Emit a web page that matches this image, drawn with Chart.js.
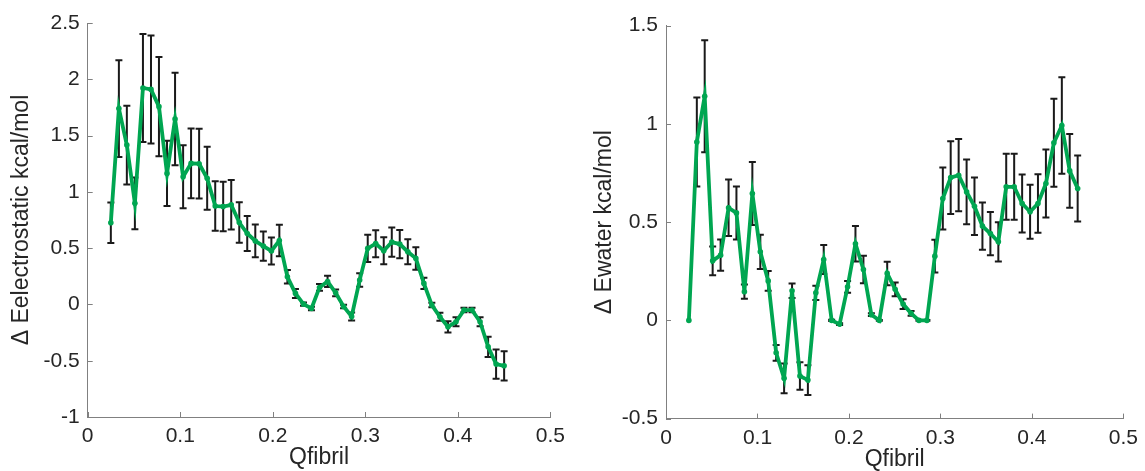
<!DOCTYPE html>
<html>
<head>
<meta charset="utf-8">
<script src="https://cdn.jsdelivr.net/npm/chart.js@4/dist/chart.umd.min.js"></script>
<style>
  html, body { margin: 0; padding: 0; background: #fff; }
  #wrap { position: relative; width: 1145px; height: 471px; }
  .panel { position: absolute; top: 0; }
</style>
</head>
<body>
<div id="wrap">
  <div class="panel" style="left:0px"><canvas id="elecChart" width="572" height="471"></canvas></div>
  <div class="panel" style="left:572px"><canvas id="waterChart" width="573" height="471"></canvas></div>
</div>
<script>
// Qfibril bins (same for both panels)
const qfibril = [
  0.0250, 0.0337, 0.0423, 0.0510, 0.0597, 0.0684, 0.0770, 0.0857, 0.0944, 0.1031,
  0.1117, 0.1204, 0.1291, 0.1378, 0.1464, 0.1551, 0.1638, 0.1724, 0.1811, 0.1898,
  0.1985, 0.2071, 0.2158, 0.2245, 0.2332, 0.2418, 0.2505, 0.2592, 0.2679, 0.2765,
  0.2852, 0.2939, 0.3026, 0.3112, 0.3199, 0.3286, 0.3372, 0.3459, 0.3546, 0.3633,
  0.3719, 0.3806, 0.3893, 0.3980, 0.4066, 0.4153, 0.4240, 0.4327, 0.4413, 0.4500
];

// left panel: electrostatic energy
const elecValues = [
  0.725, 1.74, 1.416, 0.898, 1.923, 1.91, 1.757, 1.164, 1.647, 1.134,
  1.253, 1.25, 1.12, 0.874, 0.87, 0.885, 0.727, 0.63, 0.564, 0.518,
  0.475, 0.567, 0.245, 0.098, 0.003, -0.036, 0.151, 0.204, 0.103, -0.018,
  -0.107, 0.216, 0.498, 0.54, 0.477, 0.554, 0.536, 0.468, 0.409, 0.187,
  -0.006, -0.11, -0.199, -0.154, -0.05, -0.05, -0.154, -0.377, -0.53, -0.545
];
const elecErrors = [
  0.18, 0.43, 0.35, 0.23, 0.48, 0.48, 0.44, 0.29, 0.41, 0.28,
  0.31, 0.31, 0.28, 0.22, 0.22, 0.22, 0.18, 0.155, 0.145, 0.13,
  0.12, 0.14, 0.06, 0.04, 0.015, 0.015, 0.03, 0.05, 0.03, 0.015,
  0.035, 0.06, 0.12, 0.12, 0.12, 0.13, 0.125, 0.11, 0.1, 0.05,
  0.02, 0.035, 0.05, 0.04, 0.02, 0.02, 0.04, 0.09, 0.13, 0.13
];

// right panel: water energy
const waterValues = [
  0.0, 0.908, 1.141, 0.303, 0.332, 0.573, 0.547, 0.146, 0.646, 0.349,
  0.201, -0.165, -0.295, 0.151, -0.283, -0.304, 0.14, 0.31, 0.0, -0.019,
  0.171, 0.39, 0.259, 0.029, 0.0, 0.239, 0.158, 0.083, 0.036, 0.0,
  0.0, 0.327, 0.62, 0.727, 0.739, 0.654, 0.581, 0.48, 0.442, 0.4,
  0.68, 0.68, 0.595, 0.553, 0.595, 0.697, 0.904, 0.992, 0.761, 0.671
];
const waterErrors = [
  0.0, 0.227, 0.285, 0.073, 0.08, 0.144, 0.135, 0.036, 0.16, 0.087,
  0.05, 0.04, 0.076, 0.037, 0.07, 0.076, 0.036, 0.074, 0.003, 0.005,
  0.03, 0.09, 0.07, 0.007, 0.002, 0.06, 0.035, 0.025, 0.012, 0.002,
  0.002, 0.083, 0.158, 0.185, 0.184, 0.165, 0.146, 0.12, 0.11, 0.1,
  0.168, 0.168, 0.148, 0.137, 0.149, 0.173, 0.224, 0.246, 0.188, 0.168
];

const xTicks = [0, 0.1, 0.2, 0.3, 0.4, 0.5];
const elecYTicks = [-1, -0.5, 0, 0.5, 1, 1.5, 2, 2.5];
const waterYTicks = [-0.5, 0, 0.5, 1, 1.5];

const GREEN = "#00a651";
const TEXT = "#262626";
const AXIS = "#808080";
const FONT = "'Liberation Sans', Arial, Helvetica, sans-serif";

const fmt = (v) => String(Math.round(v * 10) / 10);

// error bars under the line, inward ticks on the axes
const errorBarPlugin = {
  id: "errorBars",
  beforeDatasetsDraw(chart) {
    const { ctx, scales: { x, y } } = chart;
    ctx.save();
    ctx.strokeStyle = "#1a1a1a";
    ctx.lineWidth = 2;
    chart.data.datasets.forEach((ds) => {
      ds.data.forEach((p, i) => {
        const e = ds.errors[i];
        if (!e) return;
        const px = x.getPixelForValue(p.x);
        const top = y.getPixelForValue(p.y + e);
        const bot = y.getPixelForValue(p.y - e);
        ctx.beginPath();
        ctx.moveTo(px, top);
        ctx.lineTo(px, bot);
        ctx.moveTo(px - 3.5, top);
        ctx.lineTo(px + 3.5, top);
        ctx.moveTo(px - 3.5, bot);
        ctx.lineTo(px + 3.5, bot);
        ctx.stroke();
      });
    });
    ctx.restore();
  },
  afterDraw(chart) {
    const { ctx, chartArea: a, scales: { x, y } } = chart;
    ctx.save();
    ctx.strokeStyle = AXIS;
    ctx.lineWidth = 1;
    ctx.beginPath();
    x.ticks.forEach((t) => {
      const px = Math.round(x.getPixelForValue(t.value)) + 0.5;
      ctx.moveTo(px, a.bottom);
      ctx.lineTo(px, a.bottom - 5);
    });
    y.ticks.forEach((t) => {
      const py = Math.round(y.getPixelForValue(t.value)) + 0.5;
      ctx.moveTo(a.left, py);
      ctx.lineTo(a.left + 5, py);
    });
    ctx.stroke();
    ctx.restore();
  },
};

function makePanel(id, values, errors, yTicks, yTitle, box) {
  const ctx = document.getElementById(id).getContext("2d");
  return new Chart(ctx, {
    type: "line",
    data: {
      datasets: [
        {
          data: qfibril.map((q, i) => ({ x: q, y: values[i] })),
          errors: errors,
          borderColor: GREEN,
          backgroundColor: GREEN,
          borderWidth: 3.8,
          pointRadius: 2.8,
          pointBorderWidth: 0,
          pointBackgroundColor: GREEN,
          tension: 0,
        },
      ],
    },
    options: {
      responsive: false,
      animation: false,
      layout: { padding: { top: box.top, right: box.right, left: 0, bottom: 0 } },
      plugins: { legend: { display: false }, tooltip: { enabled: false } },
      scales: {
        x: {
          type: "linear",
          min: xTicks[0],
          max: xTicks[xTicks.length - 1],
          afterBuildTicks: (s) => { s.ticks = xTicks.map((v) => ({ value: v })); },
          afterFit: (s) => { s.height = box.xh; },
          grid: { display: false, drawTicks: false },
          border: { color: AXIS, width: 1 },
          ticks: {
            color: TEXT,
            font: { family: FONT, size: 21 },
            padding: 7,
            maxRotation: 0,
            callback: fmt,
          },
          title: {
            display: true,
            text: "Qfibril",
            color: TEXT,
            font: { family: FONT, size: 23 },
            padding: { top: 0, bottom: box.xtPad },
          },
        },
        y: {
          type: "linear",
          min: yTicks[0],
          max: yTicks[yTicks.length - 1],
          afterBuildTicks: (s) => { s.ticks = yTicks.map((v) => ({ value: v })); },
          afterFit: (s) => { s.width = box.yw; },
          grid: { display: false, drawTicks: false },
          border: { color: AXIS, width: 1 },
          ticks: {
            color: TEXT,
            font: { family: FONT, size: 21 },
            padding: 8,
            callback: fmt,
          },
          title: {
            display: true,
            text: yTitle,
            color: TEXT,
            font: { family: FONT, size: 23 },
            padding: { top: box.ytPad, bottom: 0 },
          },
        },
      },
    },
    plugins: [errorBarPlugin],
  });
}

makePanel("elecChart", elecValues, elecErrors, elecYTicks, "\u0394 Eelectrostatic kcal/mol",
  { top: 23, right: 21.5, xh: 54, yw: 87.7, xtPad: 0, ytPad: 8 });
makePanel("waterChart", waterValues, waterErrors, waterYTicks, "\u0394 Ewater kcal/mol",
  { top: 25.7, right: 16, xh: 52.4, yw: 94, xtPad: -2, ytPad: 19 });
</script>
</body>
</html>
